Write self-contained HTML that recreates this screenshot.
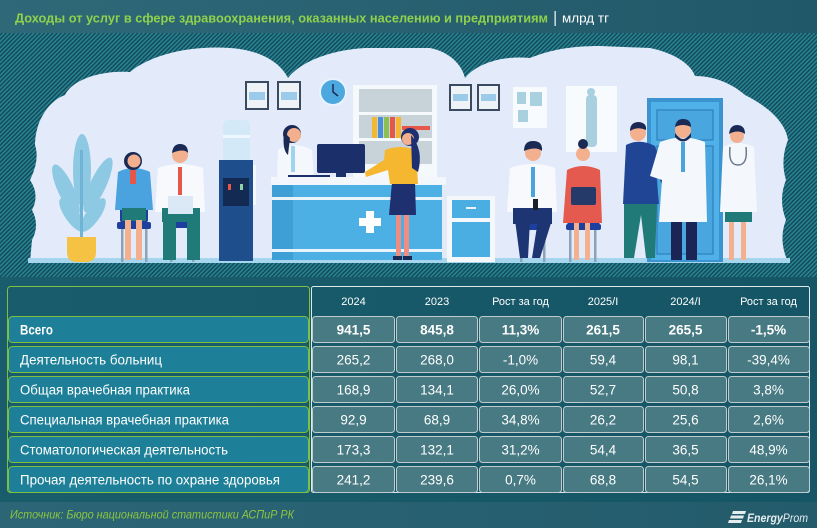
<!DOCTYPE html>
<html>
<head>
<meta charset="utf-8">
<style>
html,body{margin:0;padding:0;width:817px;height:528px;overflow:hidden;background:#17596a;}
svg{display:block;}
text{font-family:"Liberation Sans","DejaVu Sans",sans-serif;}
</style>
</head>
<body>
<svg width="817" height="528" viewBox="0 0 817 528" xmlns="http://www.w3.org/2000/svg">
<defs>
  <pattern id="st" width="3" height="3" patternUnits="userSpaceOnUse" patternTransform="rotate(45)">
    <rect width="3" height="3" fill="#2a8797"/>
    <rect width="1.6" height="3" fill="#134c5a"/>
  </pattern>
  <linearGradient id="hd" x1="0" x2="1" y1="0" y2="0">
    <stop offset="0" stop-color="#2f6978"/>
    <stop offset="1" stop-color="#215869"/>
  </linearGradient>
  <linearGradient id="ft" x1="0" x2="1" y1="0" y2="0">
    <stop offset="0" stop-color="#2c6676"/>
    <stop offset="1" stop-color="#235b6b"/>
  </linearGradient>
  <linearGradient id="tb" x1="0" x2="1" y1="0" y2="0">
    <stop offset="0" stop-color="#195d6d"/>
    <stop offset="1" stop-color="#155565"/>
  </linearGradient>
</defs>

<!-- header -->
<rect x="0" y="0" width="817" height="33" fill="url(#hd)"/>
<text x="15" y="22.5" font-size="13" font-weight="bold" fill="#8fd14c" textLength="533" lengthAdjust="spacingAndGlyphs">Доходы от услуг в сфере здравоохранения, оказанных населению и предприятиям</text>
<rect x="554.5" y="11" width="1.3" height="15" fill="#e8eef0"/>
<text x="562" y="22.5" font-size="13" fill="#ffffff" textLength="47" lengthAdjust="spacingAndGlyphs">млрд тг</text>

<!-- striped illustration background -->
<rect x="0" y="33" width="817" height="244" fill="url(#st)"/>

<!-- cloud -->
<path d="M30,262 L32,240 Q40,225 32,210 Q40,195 30,180 Q40,160 35,145 C35,120 50,100 65,95 C72,80 100,70 130,72 C150,55 190,45 230,48 C260,50 280,62 288,78 C300,62 330,50 365,48 L430,48 C450,52 462,65 465,78 C475,65 500,55 530,58 C550,50 570,46 600,46 L650,48 C670,52 690,62 695,76 C712,76 730,82 745,95 C765,105 785,120 788,140 Q780,160 786,180 Q778,200 786,220 Q778,240 788,262 Z" fill="#e3ebfb"/>

<!-- floor -->
<rect x="28" y="258" width="762" height="5" fill="#a6d5ee"/>

<!-- plant -->
<g fill="#8ec9e3">
  <ellipse cx="82" cy="170" rx="9" ry="36"/>
  <ellipse cx="66" cy="190" rx="8" ry="28" transform="rotate(-25 66 190)"/>
  <ellipse cx="98" cy="185" rx="8" ry="30" transform="rotate(25 98 185)"/>
  <ellipse cx="72" cy="215" rx="7" ry="20" transform="rotate(-35 72 215)"/>
  <ellipse cx="93" cy="215" rx="7" ry="20" transform="rotate(35 93 215)"/>
</g>
<rect x="80" y="150" width="3" height="88" fill="#6fb4d4"/>
<path d="M67,237 H96 V252 Q96,262 86,262 H77 Q67,262 67,252 Z" fill="#f6c243"/>

<!-- seated woman 1 -->
<rect x="120" y="195" width="28" height="28" rx="3" fill="#1d3f9e"/>
<rect x="121" y="228" width="2.5" height="34" fill="#8aa3b8"/>
<rect x="145" y="228" width="2.5" height="34" fill="#8aa3b8"/>
<rect x="117" y="222" width="34" height="7" rx="2" fill="#1d3f9e"/>
<path d="M118,172 Q133,164 150,172 L153,210 H115 Z" fill="#4aa3df"/>
<rect x="130" y="170" width="6" height="14" fill="#e5574a"/>
<rect x="122" y="208" width="24" height="13" fill="#1f7a78"/>
<rect x="125" y="220" width="6" height="40" fill="#f2b08e"/>
<rect x="136" y="220" width="6" height="40" fill="#f2b08e"/>
<circle cx="133" cy="161" r="9" fill="#1a2a55"/>
<circle cx="134" cy="161" r="6.5" fill="#f2b08e"/>

<!-- seated man 1 -->
<rect x="168" y="222" width="28" height="6" rx="2" fill="#1d3f9e"/>
<rect x="170" y="228" width="2.5" height="34" fill="#8aa3b8"/>
<rect x="192" y="228" width="2.5" height="34" fill="#8aa3b8"/>
<path d="M158,168 Q180,160 203,168 L205,212 H155 Z" fill="#f7f9fc"/>
<rect x="178" y="167" width="4" height="28" fill="#e5574a"/>
<rect x="162" y="208" width="38" height="14" fill="#1f7a78"/>
<rect x="163" y="218" width="13" height="42" fill="#1f7a78"/>
<rect x="187" y="218" width="13" height="42" fill="#1f7a78"/>
<rect x="168" y="196" width="25" height="18" fill="#dbe9f6"/>
<circle cx="180" cy="155" r="8" fill="#f2b08e"/>
<path d="M172,153 Q173,144 180,144 Q188,144 188,153 Q184,148 172,153 Z" fill="#1a2a55"/>

<!-- water cooler -->
<rect x="223" y="120" width="27" height="42" rx="5" fill="#d3e9f7"/>
<rect x="223" y="135" width="27" height="3" fill="#eef7fd"/>
<rect x="219" y="160" width="34" height="101" fill="#1e4e8c"/>
<rect x="223" y="178" width="26" height="28" fill="#132a52"/>
<rect x="228" y="184" width="3" height="6" fill="#e5574a"/>
<rect x="240" y="184" width="3" height="6" fill="#8ed1a8"/>
<rect x="253" y="165" width="3" height="40" fill="#f4f8fb"/>

<!-- certificates -->
<g fill="#eef3f8" stroke="#3a4a60" stroke-width="2">
  <rect x="246" y="82" width="22" height="27"/>
  <rect x="278" y="82" width="22" height="27"/>
  <rect x="450" y="85" width="21" height="25"/>
  <rect x="478" y="85" width="21" height="25"/>
</g>
<g fill="#9ccbe9">
  <rect x="249" y="92" width="16" height="8"/>
  <rect x="281" y="92" width="16" height="8"/>
  <rect x="453" y="94" width="15" height="7"/>
  <rect x="481" y="94" width="15" height="7"/>
</g>

<!-- clock -->
<circle cx="333" cy="92" r="13" fill="#4da8e0" stroke="#eaf3fb" stroke-width="2"/>
<path d="M333,84 V92 L338,96" stroke="#1a2a55" stroke-width="1.5" fill="none"/>

<!-- shelf -->
<rect x="353" y="85" width="84" height="93" fill="#f6f9fc"/>
<rect x="359" y="89" width="73" height="23" fill="#c7d3d8"/>
<rect x="359" y="115" width="73" height="23" fill="#c7d3d8"/>
<rect x="359" y="141" width="73" height="23" fill="#c7d3d8"/>
<rect x="372" y="117" width="5" height="21" fill="#f5b630"/>
<rect x="378" y="117" width="5" height="21" fill="#4a8fd6"/>
<rect x="384" y="117" width="5" height="21" fill="#8cc152"/>
<rect x="390" y="117" width="5" height="21" fill="#e5574a"/>
<rect x="396" y="117" width="5" height="21" fill="#f5b630"/>
<rect x="402" y="126" width="28" height="4" fill="#e5574a"/>

<!-- receptionist -->
<path d="M278,150 Q293,140 312,150 L314,178 H277 Z" fill="#f4f7fb"/>
<rect x="291" y="146" width="4" height="26" fill="#9fd4ea"/>
<circle cx="292" cy="134" r="9" fill="#1a2a55"/>
<circle cx="294" cy="135" r="7" fill="#f2b08e"/>
<path d="M284,132 Q282,150 288,155 L290,138 Z" fill="#1a2a55"/>

<!-- monitor -->
<rect x="317" y="144" width="48" height="29" rx="2" fill="#1b2f6a"/>
<rect x="336" y="172" width="10" height="6" fill="#1b2f6a"/>
<rect x="288" y="175" width="42" height="3" fill="#1b2f6a"/>

<!-- desk -->
<rect x="272" y="185" width="170" height="75" fill="#4cb0e4"/>
<rect x="272" y="185" width="21" height="75" fill="#3d9fd6"/>
<rect x="272" y="197" width="170" height="3" fill="#e8f3fb"/>
<rect x="272" y="249" width="170" height="3" fill="#e8f3fb"/>
<rect x="271" y="177" width="175" height="8" fill="#f3f7fb"/>
<rect x="359" y="218" width="22" height="8" fill="#ffffff"/>
<rect x="366" y="211" width="8" height="22" fill="#ffffff"/>

<!-- woman in yellow -->
<rect x="396" y="213" width="5" height="45" fill="#ef8d82"/>
<rect x="404" y="213" width="5" height="45" fill="#ef8d82"/>
<rect x="393" y="256" width="9" height="4" fill="#1a2a55"/>
<rect x="403" y="256" width="9" height="4" fill="#1a2a55"/>
<path d="M392,182 H415 L416,215 H389 Z" fill="#1f3070"/>
<path d="M385,150 Q400,144 416,150 L418,184 H390 L388,170 L366,177 L365,172 L384,160 Z" fill="#f5b630"/>
<circle cx="410" cy="137" r="9" fill="#1f3070"/>
<circle cx="408" cy="139" r="6" fill="#f2b08e"/>
<path d="M411,135 Q424,150 418,172 L412,168 Z" fill="#1f3070"/>

<!-- cabinet -->
<rect x="447" y="196" width="48" height="66" fill="#f4f8fb"/>
<rect x="452" y="200" width="38" height="18" fill="#4aaee2"/>
<rect x="452" y="222" width="38" height="35" fill="#4aaee2"/>
<rect x="466" y="207" width="10" height="2" fill="#e8f3fb"/>

<!-- posters -->
<rect x="513" y="87" width="34" height="41" fill="#f8fbfd"/>
<rect x="517" y="92" width="9" height="12" fill="#a8d0df"/>
<rect x="530" y="92" width="12" height="14" fill="#a8d0df"/>
<rect x="518" y="110" width="10" height="12" fill="#a8d0df"/>
<rect x="566" y="86" width="51" height="66" fill="#f8fbfd"/>
<rect x="586" y="95" width="11" height="52" rx="4" fill="#a8d0df"/>
<circle cx="591" cy="92" r="4" fill="#a8d0df"/>

<!-- door -->
<rect x="647" y="98" width="76" height="164" fill="#3b94cf"/>
<rect x="651" y="102" width="68" height="158" fill="#4fb1e7"/>
<rect x="657" y="110" width="56" height="30" fill="#49a6df" stroke="#3688c4" stroke-width="1.5"/>
<rect x="657" y="146" width="56" height="108" fill="#49a6df" stroke="#3688c4" stroke-width="1.5"/>

<!-- seated man 2 -->
<rect x="517" y="224" width="31" height="6" rx="2" fill="#1d3f9e"/>
<rect x="520" y="230" width="2.5" height="32" fill="#8aa3b8"/>
<rect x="543" y="230" width="2.5" height="32" fill="#8aa3b8"/>
<path d="M510,168 Q533,160 555,168 L557,212 H507 Z" fill="#f7f9fc"/>
<rect x="531" y="167" width="4" height="30" fill="#4aa3df"/>
<rect x="513" y="208" width="39" height="16" fill="#1d3572"/>
<path d="M515,220 L530,220 L528,258 L520,258 Z" fill="#1d3572"/>
<path d="M538,220 L552,220 L540,258 L532,258 Z" fill="#1d3572"/>
<rect x="533" y="199" width="5" height="11" fill="#1a1f2e"/>
<circle cx="533" cy="153" r="8" fill="#f2b08e"/>
<path d="M524,151 Q524,141 533,141 Q543,141 542,151 Q536,146 524,151 Z" fill="#1a2a55"/>

<!-- seated woman red -->
<rect x="567" y="185" width="33" height="40" rx="3" fill="#1d3f9e"/>
<rect x="566" y="224" width="35" height="6" rx="2" fill="#1d3f9e"/>
<rect x="569" y="230" width="2.5" height="32" fill="#8aa3b8"/>
<rect x="594" y="230" width="2.5" height="32" fill="#8aa3b8"/>
<rect x="574" y="220" width="5" height="40" fill="#f2b08e"/>
<rect x="585" y="220" width="5" height="40" fill="#f2b08e"/>
<path d="M567,170 Q583,162 600,170 L602,223 H563 Z" fill="#e55a4e"/>
<rect x="571" y="187" width="25" height="18" rx="2" fill="#263a6a"/>
<circle cx="583" cy="154" r="7" fill="#f2b08e"/>
<circle cx="583" cy="144" r="5" fill="#1a2a55"/>

<!-- man blue jacket -->
<path d="M624,202 H657 L655,258 H646 L641,215 L634,258 H624 Z" fill="#1f7a78"/>
<path d="M626,145 Q640,138 655,146 L666,178 L662,184 L656,172 L659,204 H623 Z" fill="#1f4594"/>
<circle cx="638" cy="133" r="8" fill="#f2b08e"/>
<path d="M630,131 Q630,122 639,122 Q647,123 646,130 Q638,126 630,131 Z" fill="#1a2a55"/>

<!-- doctor -->
<rect x="671" y="220" width="11" height="40" fill="#1a2555"/>
<rect x="686" y="220" width="11" height="40" fill="#1a2555"/>
<path d="M660,142 Q683,133 705,142 L707,222 H659 L662,180 L650,176 Z" fill="#f4f7fb"/>
<rect x="681" y="142" width="4" height="30" fill="#4aa3df"/>
<circle cx="683" cy="130" r="8" fill="#f2b08e"/>
<path d="M675,133 Q683,145 691,133 L691,137 Q683,146 675,137 Z" fill="#1a2a55"/>
<path d="M675,127 Q676,119 683,119 Q691,119 691,127 Q683,123 675,127 Z" fill="#1a2a55"/>

<!-- female doctor -->
<rect x="729" y="220" width="5" height="40" fill="#f2b08e"/>
<rect x="741" y="220" width="5" height="40" fill="#f2b08e"/>
<rect x="725" y="210" width="27" height="12" fill="#1f7a78"/>
<path d="M723,147 Q738,139 754,147 L757,212 H720 Z" fill="#f4f7fb"/>
<path d="M730,147 Q728,165 738,165 Q748,165 746,147" stroke="#6b7a8c" stroke-width="1.5" fill="none"/>
<circle cx="737" cy="136" r="7" fill="#f2b08e"/>
<path d="M729,134 Q730,125 737,125 Q745,125 745,134 Q738,129 729,134 Z" fill="#1a2a55"/>

<!-- table area background -->
<rect x="0" y="277" width="817" height="225" fill="url(#tb)"/>

<!-- left box -->
<rect x="7.5" y="286.5" width="302" height="206" rx="3" fill="none" stroke="#7dc142" stroke-width="1"/>
<!-- right box outline -->
<rect x="311.5" y="286.5" width="498" height="206" rx="2" fill="none" stroke="#dfe8ea" stroke-width="1"/>

<!-- header labels -->
<g font-size="11" fill="#ffffff" text-anchor="middle">
  <text x="353.5" y="305">2024</text>
  <text x="437" y="305">2023</text>
  <text x="520.5" y="305">Рост за год</text>
  <text x="603" y="305">2025/I</text>
  <text x="685.5" y="305">2024/I</text>
  <text x="768.5" y="305">Рост за год</text>
</g>

<!-- label cells -->
<g fill="#1e8098" stroke="#7dc142" stroke-width="1">
  <rect x="8.5" y="316.5" width="300" height="26" rx="4"/>
  <rect x="8.5" y="346.5" width="300" height="26" rx="4"/>
  <rect x="8.5" y="376.5" width="300" height="26" rx="4"/>
  <rect x="8.5" y="406.5" width="300" height="26" rx="4"/>
  <rect x="8.5" y="436.5" width="300" height="26" rx="4"/>
  <rect x="8.5" y="466.5" width="300" height="26" rx="4"/>
</g>

<!-- data cells -->
<g fill="#477a83" stroke="#bfcbcd" stroke-width="1">
  <rect x="312.5" y="316.5" width="82" height="26" rx="3"/><rect x="396.5" y="316.5" width="81" height="26" rx="3"/><rect x="479.5" y="316.5" width="82" height="26" rx="3"/><rect x="563.5" y="316.5" width="80" height="26" rx="3"/><rect x="645.5" y="316.5" width="81" height="26" rx="3"/><rect x="728.5" y="316.5" width="81" height="26" rx="3"/>
  <rect x="312.5" y="346.5" width="82" height="26" rx="3"/><rect x="396.5" y="346.5" width="81" height="26" rx="3"/><rect x="479.5" y="346.5" width="82" height="26" rx="3"/><rect x="563.5" y="346.5" width="80" height="26" rx="3"/><rect x="645.5" y="346.5" width="81" height="26" rx="3"/><rect x="728.5" y="346.5" width="81" height="26" rx="3"/>
  <rect x="312.5" y="376.5" width="82" height="26" rx="3"/><rect x="396.5" y="376.5" width="81" height="26" rx="3"/><rect x="479.5" y="376.5" width="82" height="26" rx="3"/><rect x="563.5" y="376.5" width="80" height="26" rx="3"/><rect x="645.5" y="376.5" width="81" height="26" rx="3"/><rect x="728.5" y="376.5" width="81" height="26" rx="3"/>
  <rect x="312.5" y="406.5" width="82" height="26" rx="3"/><rect x="396.5" y="406.5" width="81" height="26" rx="3"/><rect x="479.5" y="406.5" width="82" height="26" rx="3"/><rect x="563.5" y="406.5" width="80" height="26" rx="3"/><rect x="645.5" y="406.5" width="81" height="26" rx="3"/><rect x="728.5" y="406.5" width="81" height="26" rx="3"/>
  <rect x="312.5" y="436.5" width="82" height="26" rx="3"/><rect x="396.5" y="436.5" width="81" height="26" rx="3"/><rect x="479.5" y="436.5" width="82" height="26" rx="3"/><rect x="563.5" y="436.5" width="80" height="26" rx="3"/><rect x="645.5" y="436.5" width="81" height="26" rx="3"/><rect x="728.5" y="436.5" width="81" height="26" rx="3"/>
  <rect x="312.5" y="466.5" width="82" height="26" rx="3"/><rect x="396.5" y="466.5" width="81" height="26" rx="3"/><rect x="479.5" y="466.5" width="82" height="26" rx="3"/><rect x="563.5" y="466.5" width="80" height="26" rx="3"/><rect x="645.5" y="466.5" width="81" height="26" rx="3"/><rect x="728.5" y="466.5" width="81" height="26" rx="3"/>
</g>

<!-- row labels -->
<g font-size="13.5" fill="#ffffff">
  <text x="20" y="334.5" font-weight="bold" textLength="33" lengthAdjust="spacingAndGlyphs">Всего</text>
  <text x="20" y="364.5" textLength="142" lengthAdjust="spacingAndGlyphs">Деятельность больниц</text>
  <text x="20" y="394.5" textLength="170" lengthAdjust="spacingAndGlyphs">Общая врачебная практика</text>
  <text x="20" y="424.5" textLength="209" lengthAdjust="spacingAndGlyphs">Специальная врачебная практика</text>
  <text x="20" y="454.5" textLength="208" lengthAdjust="spacingAndGlyphs">Стоматологическая деятельность</text>
  <text x="20" y="484.5" textLength="260" lengthAdjust="spacingAndGlyphs">Прочая деятельность по охране здоровья</text>
</g>

<!-- numbers -->
<g font-size="13.5" fill="#ffffff" text-anchor="middle">
  <g font-weight="bold">
    <text x="353.5" y="334.5">941,5</text><text x="437" y="334.5">845,8</text><text x="520.5" y="334.5">11,3%</text><text x="603" y="334.5">261,5</text><text x="685.5" y="334.5">265,5</text><text x="768.5" y="334.5">-1,5%</text>
  </g>
  <text x="353.5" y="364.5">265,2</text><text x="437" y="364.5">268,0</text><text x="520.5" y="364.5">-1,0%</text><text x="603" y="364.5">59,4</text><text x="685.5" y="364.5">98,1</text><text x="768.5" y="364.5">-39,4%</text>
  <text x="353.5" y="394.5">168,9</text><text x="437" y="394.5">134,1</text><text x="520.5" y="394.5">26,0%</text><text x="603" y="394.5">52,7</text><text x="685.5" y="394.5">50,8</text><text x="768.5" y="394.5">3,8%</text>
  <text x="353.5" y="424.5">92,9</text><text x="437" y="424.5">68,9</text><text x="520.5" y="424.5">34,8%</text><text x="603" y="424.5">26,2</text><text x="685.5" y="424.5">25,6</text><text x="768.5" y="424.5">2,6%</text>
  <text x="353.5" y="454.5">173,3</text><text x="437" y="454.5">132,1</text><text x="520.5" y="454.5">31,2%</text><text x="603" y="454.5">54,4</text><text x="685.5" y="454.5">36,5</text><text x="768.5" y="454.5">48,9%</text>
  <text x="353.5" y="484.5">241,2</text><text x="437" y="484.5">239,6</text><text x="520.5" y="484.5">0,7%</text><text x="603" y="484.5">68,8</text><text x="685.5" y="484.5">54,5</text><text x="768.5" y="484.5">26,1%</text>
</g>

<!-- footer -->
<rect x="0" y="502" width="817" height="26" fill="url(#ft)"/>
<text x="10" y="518.5" font-size="11.5" font-style="italic" fill="#8dc63f" textLength="284" lengthAdjust="spacingAndGlyphs">Источник: Бюро национальной статистики АСПиР РК</text>

<!-- EnergyProm logo -->
<g fill="#e6edf0">
  <path d="M733,511 H746 L745,514 H732 Z"/>
  <path d="M731,515.5 H744 L743,518.5 H730 Z"/>
  <path d="M729,520 H742 L741,523 H728 Z"/>
</g>
<text x="747" y="522" font-size="12" font-style="italic" fill="#e6edf0" textLength="61" lengthAdjust="spacingAndGlyphs"><tspan font-weight="bold">Energy</tspan>Prom</text>
</svg>
</body>
</html>
